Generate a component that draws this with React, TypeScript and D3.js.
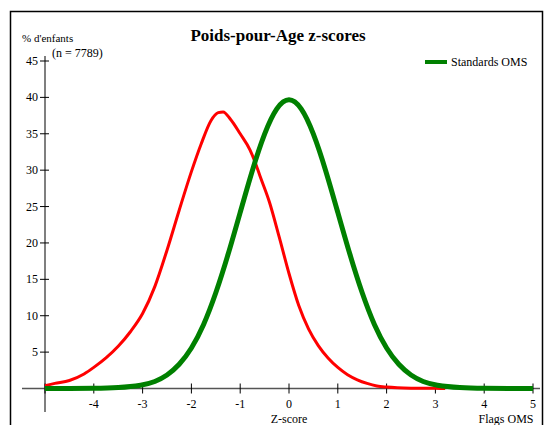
import React from 'react';
import * as d3 from 'd3';

// red: observed distribution (% of children by z-score)
const obsZ = [-5, -4.8, -4.5, -4.2, -4, -3.75, -3.5, -3.25, -3, -2.75, -2.5, -2.25, -2, -1.8, -1.6, -1.45, -1.35, -1.2, -1, -0.8, -0.7, -0.6, -0.4, -0.2, 0, 0.2, 0.4, 0.6, 0.8, 1, 1.2, 1.4, 1.6, 1.8, 2, 2.5, 3, 3.2];
const obsPct = [0.4, 0.7, 1.1, 2.0, 2.9, 4.2, 5.8, 7.8, 10.3, 14.0, 19.0, 24.5, 29.8, 33.6, 36.8, 37.9, 38.0, 37.0, 35.0, 32.8, 31.2, 29.3, 25.6, 20.8, 15.8, 11.4, 8.2, 5.9, 4.2, 2.9, 1.9, 1.2, 0.7, 0.35, 0.2, 0.05, 0.02, 0];

// green: WHO standard
const stdZ = [-5, -4.5, -4, -3.5, -3, -2.75, -2.5, -2.25, -2, -1.75, -1.5, -1.25, -1, -0.75, -0.5, -0.25, 0, 0.25, 0.5, 0.75, 1, 1.25, 1.5, 1.75, 2, 2.25, 2.5, 2.75, 3, 3.5, 4, 4.5, 5];
const stdPct = [0, 0, 0.01, 0.09, 0.44, 0.9, 1.75, 3.2, 5.4, 8.6, 13.0, 18.3, 24.2, 30.1, 35.2, 38.8, 40.1, 38.8, 35.2, 30.1, 24.2, 18.3, 13.0, 8.6, 5.4, 3.2, 1.75, 0.9, 0.44, 0.09, 0.01, 0, 0];

const xTicks = [-5, -4, -3, -2, -1, 0, 1, 2, 3, 4, 5];
const yTicks = [5, 10, 15, 20, 25, 30, 35, 40, 45];

const serif = '"Liberation Serif", "Times New Roman", serif';

const App = () => {
  const width = 545;
  const height = 425;
  const x = d3.scaleLinear().domain([-5, 5]).range([45, 533]);
  const y = d3.scaleLinear().domain([0, 45]).range([388.5, 61]);

  const obs = obsZ.map((z, i) => [z, obsPct[i]] as [number, number]);
  const std = stdZ.map((z, i) => [z, stdPct[i]] as [number, number]);

  const redLine = d3.line<[number, number]>()
    .x((d) => x(d[0]))
    .y((d) => y(d[1]))
    .curve(d3.curveMonotoneX);
  const greenLine = d3.line<[number, number]>()
    .x((d) => x(d[0]))
    .y((d) => y(d[1]))
    .curve(d3.curveBasis);

  const axisColor = '#555';

  return (
    <svg
      width={width}
      height={height}
      style={{ position: 'absolute', left: 0, top: 0, background: '#fff' }}
    >
      {/* frame */}
      <path d={`M10.5,${height} V11.5 H542.5 V${height}`} fill="none" stroke="#000" strokeWidth={1.5} />

      <text x={278} y={41} textAnchor="middle" fontFamily={serif} fontSize={17} fontWeight="bold">
        Poids-pour-Age z-scores
      </text>
      <text x={22} y={42} fontFamily={serif} fontSize={11}>% d'enfants</text>
      <text x={52} y={57} fontFamily={serif} fontSize={12}>(n = 7789)</text>

      {/* legend */}
      <line x1={425} x2={447} y1={62} y2={62} stroke="green" strokeWidth={4} />
      <text x={451} y={66} fontFamily={serif} fontSize={12}>Standards OMS</text>

      {/* axes */}
      <line x1={22} x2={540} y1={y(0)} y2={y(0)} stroke={axisColor} strokeWidth={1.5} />
      <line x1={x(-5)} x2={x(-5)} y1={56} y2={412} stroke={axisColor} strokeWidth={1.5} />
      {yTicks.map((t) => (
        <g key={t}>
          <line x1={x(-5) - 5} x2={x(-5) + 4} y1={y(t)} y2={y(t)} stroke="#000" strokeWidth={1} />
          <text x={38} y={y(t) + 4} textAnchor="end" fontFamily={serif} fontSize={12}>{t}</text>
        </g>
      ))}
      {xTicks.map((t) => (
        <g key={t}>
          <line x1={x(t)} x2={x(t)} y1={y(0) - 5} y2={y(0) + 5} stroke="#000" strokeWidth={1} />
          {t !== -5 && (
            <text x={x(t)} y={408} textAnchor="middle" fontFamily={serif} fontSize={12}>{t}</text>
          )}
        </g>
      ))}
      <text x={x(0)} y={423} textAnchor="middle" fontFamily={serif} fontSize={12}>Z-score</text>
      <text x={506} y={423} textAnchor="middle" fontFamily={serif} fontSize={12}>Flags OMS</text>

      {/* curves */}
      <path d={redLine(obs) || ''} fill="none" stroke="red" strokeWidth={3} strokeLinejoin="round" />
      <path d={greenLine(std) || ''} fill="none" stroke="green" strokeWidth={5} strokeLinejoin="round" />
    </svg>
  );
};

export default App;
